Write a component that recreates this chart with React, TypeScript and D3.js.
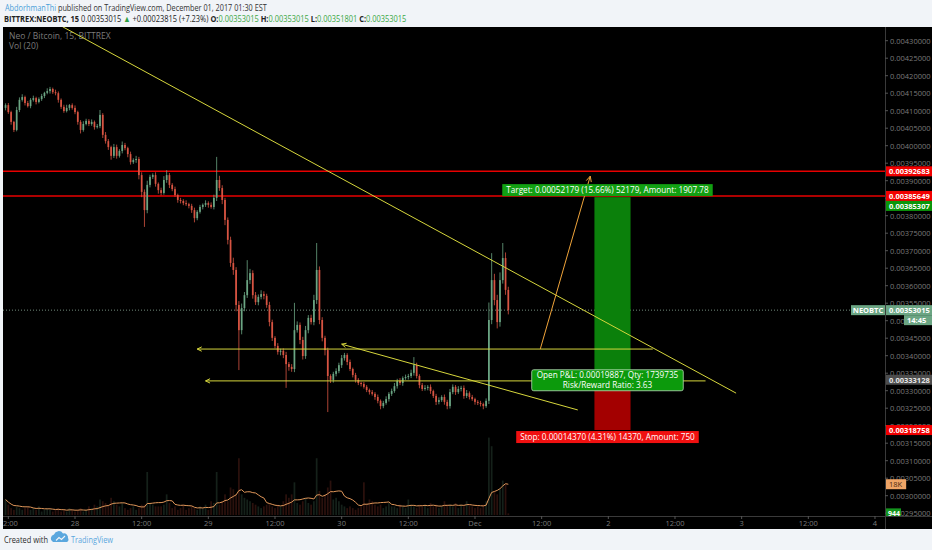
import React, { useMemo } from "react";
import * as d3 from "d3";

const W = 932;
const H = 550;

// NEO/BTC on Bittrex, 30-minute bars (prices in satoshi), first bar opens 27 Nov 2017 11:30 UTC
const barStart = Date.UTC(2017, 10, 27, 11, 30);
const barMinutes = 30;
const firstOpen = 410800;

const closes = [
  411600, 409600, 406800, 404500, 410200, 413100, 413900, 412200, 411300, 413100,
  413600, 412500, 413300, 414200, 415100, 415600, 416200, 415300, 415000, 413100,
  411100, 409900, 410800, 411600, 410800, 409600, 406800, 404500, 406200, 407100,
  406200, 406800, 405300, 405600, 408800, 403100, 401300, 399600, 397100, 399600,
  397100, 398500, 400200, 399300, 397600, 395300, 395900, 396200, 391600, 386800,
  381600, 388800, 391100, 391600, 389100, 387300, 386500, 390200, 391600, 388800,
  387600, 385900, 384500, 384200, 383600, 383300, 382800, 381600, 379300, 381100,
  382500, 383100, 383600, 383100, 382500, 385100, 390200, 387900, 384500, 378800,
  373100, 366500, 364500, 354500, 347300, 353600, 357300, 361600, 363600, 357300,
  355300, 356800, 357600, 357100, 354500, 349600, 345100, 342800, 341100, 341400,
  340200, 337600, 336800, 336200, 347300, 348800, 344500, 339900, 347300, 350800,
  349600, 355900, 364500, 350200, 345100, 341600, 334200, 333100, 334800, 335600,
  337300, 339300, 340200, 338200, 336200, 334500, 333100, 332200, 331900, 331100,
  330200, 329600, 329100, 328200, 327100, 325600, 326500, 327600, 329100, 329900,
  331300, 332800, 332200, 333600, 333900, 334200, 335100, 337300, 334200, 331600,
  330500, 330800, 331100, 329900, 328500, 326800, 327300, 328200, 326800, 325600,
  329600, 331100, 329600, 330500, 330800, 328500, 329300, 328200, 327600, 326800,
  326500, 326200, 325600, 327100, 350200, 361600, 355900, 349600, 361600, 367900,
  358800, 353015,
];

// distance of each high above the body, in satoshi
const wickHigh = [
  500, 600, 400, 300, 900, 700, 800, 400, 600, 500,
  700, 400, 500, 600, 300, 800, 600, 400, 700, 500,
  400, 600, 900, 300, 500, 700, 400, 500, 800, 600,
  500, 700, 400, 600, 1400, 500, 800, 600, 400, 900,
  700, 500, 1000, 600, 400, 700, 500, 900, 600, 800,
  700, 1200, 600, 500, 800, 400, 700, 1100, 1400, 600,
  500, 700, 400, 600, 500, 800, 400, 600, 700, 500,
  600, 400, 800, 500, 700, 900, 6600, 1200, 800, 600,
  700, 900, 1500, 800, 1100, 1300, 900, 5700, 1200, 800,
  900, 700, 1100, 800, 600, 900, 700, 500, 800, 600,
  700, 900, 600, 800, 7800, 1000, 700, 900, 1200, 800,
  900, 1500, 7700, 1000, 800, 600, 700, 500, 600, 800,
  700, 900, 600, 500, 700, 400, 600, 500, 400, 600,
  500, 400, 600, 500, 700, 400, 600, 800, 500, 700,
  900, 600, 800, 500, 700, 600, 900, 2300, 700, 500,
  600, 800, 500, 700, 400, 600, 800, 500, 700, 600,
  900, 700, 500, 800, 600, 700, 900, 500, 600, 400,
  500, 600, 400, 700, 5000, 7700, 1800, 1500, 2200, 4300,
  1600, 900,
];

// distance of each low below the body, in satoshi
const wickLow = [
  700, 500, 800, 600, 400, 600, 500, 700, 400, 600,
  500, 700, 400, 500, 600, 400, 700, 500, 600, 800,
  600, 500, 400, 700, 500, 600, 800, 1000, 500, 400,
  600, 500, 700, 400, 600, 900, 700, 800, 1100, 600,
  800, 500, 700, 600, 900, 700, 500, 800, 1200, 1500,
  4800, 900, 700, 600, 800, 1000, 700, 500, 800, 900,
  600, 500, 800, 700, 600, 500, 700, 800, 1200, 600,
  500, 700, 600, 800, 500, 700, 900, 800, 1200, 1500,
  1300, 1100, 1400, 1800, 11400, 1200, 900, 800, 1100, 1000,
  800, 900, 700, 1000, 800, 1200, 900, 700, 800, 1000,
  900, 6800, 1100, 800, 900, 700, 1200, 1000, 800, 900,
  700, 900, 1100, 1200, 1000, 1500, 10300, 900, 800, 700,
  600, 800, 700, 900, 600, 700, 800, 600, 700, 500,
  600, 700, 500, 800, 700, 900, 600, 500, 700, 600,
  500, 700, 600, 800, 500, 700, 600, 800, 700, 900,
  600, 500, 700, 800, 600, 900, 700, 500, 800, 900,
  700, 600, 800, 500, 700, 800, 600, 700, 500, 800,
  600, 700, 900, 500, 900, 1200, 1500, 1800, 1300, 1000,
  1400, 1214,
];

// traded volume per bar, thousands of NEO
const volumeK = [
  9, 6, 4, 3, 5, 4, 3, 4, 5, 3,
  4, 3, 5, 2, 3, 4, 3, 2, 3, 4,
  2, 3, 2, 4, 3, 2, 3, 4, 2, 3,
  5, 4, 6, 5, 9, 8, 7, 6, 10, 8,
  6, 5, 7, 4, 3, 4, 5, 3, 4, 6,
  6, 25, 7, 6, 5, 5, 5, 6, 12, 7,
  4, 5, 3, 4, 6, 3, 4, 5, 4, 3,
  5, 4, 6, 3, 8, 7, 25, 6, 8, 12,
  8, 16, 15, 12, 33, 12, 10, 9, 8, 7,
  6, 5, 4, 5, 6, 7, 5, 4, 6, 5,
  8, 12, 10, 12, 19, 7, 6, 8, 10, 7,
  6, 8, 33, 14, 10, 12, 16, 20, 9, 10,
  8, 6, 5, 4, 5, 4, 3, 4, 5, 19,
  7, 9, 8, 6, 5, 6, 4, 5, 7, 5,
  5, 4, 6, 5, 4, 9, 6, 5, 4, 6,
  5, 6, 4, 7, 5, 6, 4, 5, 8, 6,
  6, 5, 7, 4, 6, 5, 8, 6, 5, 4,
  5, 4, 6, 8, 45, 40, 14, 12, 15, 20,
  18, 0.944,
];
const volumeMaLength = 10; // 20 bars of 15 minutes

// last 15-minute quote shown in the header: open, high, low, close
const lastQuote = [353015, 353015, 351801, 353015];
const sessionOpen = 329200;

// horizontal resistance levels
const resistanceLevels = [392683, 385649];

// long position: entry, target, stop, account size and amount risked
const entryPrice = 333128;
const targetPrice = 385307;
const stopPrice = 318758;
const accountSize = 1000;
const riskAmount = 250;
const positionFrom = "2017-12-01T21:30:00Z";
const positionTo = "2017-12-02T04:00:00Z";

// drawn lines: time/price anchors, arrow marks the end carrying an arrowhead
const drawingStart = ["2017-11-27T21:45:00Z", "2017-11-28T22:00:00Z", "2017-11-28T23:30:00Z", "2017-11-30T00:00:00Z", "2017-12-01T11:45:00Z"];
const drawingStartPrice = [434000, 341900, 332800, 343300, 341900];
const drawingEnd = ["2017-12-02T23:00:00Z", "2017-12-02T08:00:00Z", "2017-12-02T17:30:00Z", "2017-12-01T18:30:00Z", "2017-12-01T20:45:00Z"];
const drawingEndPrice = [329300, 341900, 332800, 324500, 391300];
const drawingArrow = ["none", "start", "start", "start", "end"];
const drawingColor = ["#d6d63c", "#d6d63c", "#d6d63c", "#d6d63c", "#f0a43a"];

const priceTickMin = 295000;
const priceTickMax = 430000;
const priceTickStep = 5000;

// layout
const paneL = 3;
const paneT = 27;
const paneR = 885;
const paneB = 516;
const frameB = 529;
const dayPx = 133.33;
const day28X = 75;
const headerW1 = 262;
const headerW2 = 403;

const UP = "#6ba583";
const DOWN = "#d75442";
const UI_FONT = "'Open Sans', 'Noto Sans', sans-serif";

const fmtPrice = (sat: number) => (sat / 1e8).toFixed(8);

let measureCtx: CanvasRenderingContext2D | null = null;
function textWidth(text: string, font: string) {
  if (!measureCtx) measureCtx = document.createElement("canvas").getContext("2d");
  if (!measureCtx) return text.length * 5;
  measureCtx.font = font;
  return measureCtx.measureText(text).width;
}

function arrowHead(x1: number, y1: number, x2: number, y2: number, len = 6) {
  // arrowhead at (x2, y2) pointing away from (x1, y1)
  const a = Math.atan2(y2 - y1, x2 - x1);
  const s = 0.45;
  const p1 = [x2 - len * Math.cos(a - s), y2 - len * Math.sin(a - s)];
  const p2 = [x2 - len * Math.cos(a + s), y2 - len * Math.sin(a + s)];
  return `M${p1[0]},${p1[1]}L${x2},${y2}L${p2[0]},${p2[1]}`;
}

export default function App() {
  const x = useMemo(
    () =>
      d3
        .scaleUtc()
        .domain([new Date(Date.UTC(2017, 10, 27)), new Date(Date.UTC(2017, 11, 5))])
        .range([day28X - dayPx, day28X + 7 * dayPx]),
    []
  );
  const y = useMemo(
    () => d3.scaleLinear().domain([430000, 295000]).range([40.7, 40.7 + 135000 * 0.0035]),
    []
  );
  const yVol = useMemo(() => d3.scaleLinear().domain([0, 60000]).range([515, 515 - 60 * 1.72]), []);

  const bars = useMemo(
    () =>
      closes.map((c, i) => {
        const o = i === 0 ? firstOpen : closes[i - 1];
        const t = new Date(barStart + i * barMinutes * 60000);
        const hi = Math.max(o, c) + wickHigh[i];
        const lo = Math.min(o, c) - wickLow[i];
        return { t, o, c, hi, lo, v: volumeK[i] * 1000, up: c >= o };
      }),
    []
  );

  const volMa = useMemo(
    () =>
      bars.map((b, i) => {
        const w = bars.slice(Math.max(0, i - volumeMaLength + 1), i + 1);
        return { t: b.t, v: d3.mean(w, (d) => d.v) as number };
      }),
    [bars]
  );

  const maLine = d3
    .line<{ t: Date; v: number }>()
    .x((d) => x(d.t))
    .y((d) => yVol(d.v))(volMa);

  const barW = x(new Date(barStart + barMinutes * 60000)) - x(new Date(barStart));
  const bodyW = Math.max(1, barW * 0.62);

  const priceTicks = d3.range(priceTickMin, priceTickMax + 1, priceTickStep);
  const timeTicks = d3.utcHour.every(12)!.range(new Date(Date.UTC(2017, 10, 27, 12)), new Date(Date.UTC(2017, 11, 4, 1)));
  const timeLabel = (d: Date) => {
    if (d.getUTCHours() === 12) return "12:00";
    if (d.getUTCDate() === 1) return d3.utcFormat("%b")(d);
    return String(d.getUTCDate());
  };

  const last = bars[bars.length - 1];
  const lastMa = volMa[volMa.length - 1].v;

  // header strings
  const change = last.c - sessionOpen;
  const head1a = "AbdorhmanThi";
  const head1b = " published on TradingView.com, December 01, 2017 01:30 EST";
  const head2 = [
    { s: "BITTREX:NEOBTC, 15", w: 700, c: "#222" },
    { s: ` ${fmtPrice(last.c)} `, w: 400, c: "#222" },
    { s: "▲", w: 400, c: "#2ea043" },
    { s: ` +${fmtPrice(change)} (+${((change / sessionOpen) * 100).toFixed(2)}%) `, w: 400, c: "#222" },
    { s: "O:", w: 700, c: "#222" },
    { s: `${fmtPrice(lastQuote[0])} `, w: 400, c: "#3aa845" },
    { s: "H:", w: 700, c: "#222" },
    { s: `${fmtPrice(lastQuote[1])} `, w: 400, c: "#3aa845" },
    { s: "L:", w: 700, c: "#222" },
    { s: `${fmtPrice(lastQuote[2])} `, w: 400, c: "#3aa845" },
    { s: "C:", w: 700, c: "#222" },
    { s: fmtPrice(lastQuote[3]), w: 400, c: "#3aa845" },
  ];
  const h1Natural = textWidth(head1a + head1b, `9px ${UI_FONT}`);
  const h2Natural = d3.sum(head2, (p) => textWidth(p.s, `${p.w} 9px ${UI_FONT}`));
  const h1Scale = headerW1 / h1Natural;
  const h2Scale = headerW2 / h2Natural;

  // position figures
  const rewardSat = targetPrice - entryPrice;
  const riskSat = entryPrice - stopPrice;
  const qty = Math.floor(riskAmount / (riskSat / 1e8));
  const targetAmount = accountSize + (qty * rewardSat) / 1e8;
  const stopAmount = accountSize - (qty * riskSat) / 1e8;
  const openPnl = last.c - entryPrice;
  const targetText = `Target: ${fmtPrice(rewardSat)} (${((rewardSat / entryPrice) * 100).toFixed(2)}%) ${rewardSat}, Amount: ${targetAmount.toFixed(2)}`;
  const stopText = `Stop: ${fmtPrice(riskSat)} (${((riskSat / entryPrice) * 100).toFixed(2)}%) ${riskSat}, Amount: ${stopAmount.toFixed(0)}`;
  const pnlText1 = `Open P&L: ${fmtPrice(openPnl)}, Qty: ${qty}`;
  const pnlText2 = `Risk/Reward Ratio: ${(rewardSat / riskSat).toFixed(2)}`;
  const posX1 = x(new Date(positionFrom));
  const posX2 = x(new Date(positionTo));
  const labelMid = (posX1 + posX2) / 2 - 5;
  const boxFontSize = 8.2;
  const boxFont = `${boxFontSize}px ${UI_FONT}`;
  const tW = textWidth(targetText, boxFont) + 8;
  const sW = textWidth(stopText, boxFont) + 8;
  const pW = Math.max(textWidth(pnlText1, boxFont), textWidth(pnlText2, boxFont)) + 10;

  // price-axis labels, stacked so they never overlap
  const axisLabels = [
    { p: resistanceLevels[0], text: fmtPrice(resistanceLevels[0]), bg: "#f20000", fg: "#fff" },
    { p: resistanceLevels[1], text: fmtPrice(resistanceLevels[1]), bg: "#f20000", fg: "#fff" },
    { p: targetPrice, text: fmtPrice(targetPrice), bg: "#0a960a", fg: "#fff" },
    { p: last.c, text: fmtPrice(last.c), bg: UP, fg: "#fff" },
    { p: entryPrice, text: fmtPrice(entryPrice), bg: "#4d4d4d", fg: "#e6e6e6" },
    { p: stopPrice, text: fmtPrice(stopPrice), bg: "#f20000", fg: "#fff" },
  ]
    .map((l) => ({ ...l, yy: y(l.p) }))
    .sort((a, b) => a.yy - b.yy);
  for (let i = 1; i < axisLabels.length; i++) {
    if (axisLabels[i].yy - axisLabels[i - 1].yy < 10) axisLabels[i].yy = axisLabels[i - 1].yy + 10;
  }

  const lastY = y(last.c);
  const maText = `${Math.round(lastMa / 1000)}K`;

  return (
    <svg width={W} height={H} style={{ display: "block", position: "absolute", left: 0, top: 0 }} fontFamily={UI_FONT}>
      <defs>
        <clipPath id="pane">
          <rect x={paneL} y={paneT} width={paneR - paneL} height={paneB - paneT} />
        </clipPath>
        <clipPath id="timeaxis">
          <rect x={paneL} y={paneB} width={paneR - paneL} height={frameB - paneB} />
        </clipPath>
        <clipPath id="priceaxis">
          <rect x={paneR} y={paneT} width={W - paneR} height={paneB - paneT} />
        </clipPath>
      </defs>

      <rect x={0} y={0} width={W} height={H} fill="#f1f4f8" />

      {/* header, narrowed horizontally */}
      <g transform={`translate(5,10.5) scale(${h1Scale},1)`}>
        <text x={0} y={0} fontSize={9} fill="#333">
          <tspan fill="#4a9fd8">{head1a}</tspan>
          <tspan>{head1b}</tspan>
        </text>
      </g>
      <g transform={`translate(4,21.5) scale(${h2Scale},1)`}>
        <text x={0} y={0} fontSize={9} style={{ whiteSpace: "pre" }}>
          {head2.map((p, i) => (
            <tspan key={i} fontWeight={p.w} fill={p.c}>{p.s}</tspan>
          ))}
        </text>
      </g>

      {/* chart frame */}
      <rect x={paneL} y={paneT} width={W - paneL} height={frameB - paneT} fill="#000" />

      <g clipPath="url(#pane)">
        <text x={9} y={39} fontSize={8.5} fill="#7b7b7b">Neo / Bitcoin, 15, BITTREX</text>
        <text x={9} y={49} fontSize={8.5} fill="#7b7b7b">Vol (20)</text>

        {/* volume */}
        {bars.map((b, i) => (
          <rect
            key={"v" + i}
            x={x(b.t) - bodyW / 2}
            y={yVol(b.v)}
            width={bodyW}
            height={yVol(0) - yVol(b.v)}
            fill={b.up ? UP : DOWN}
            opacity={0.2}
          />
        ))}
        <path d={maLine || ""} fill="none" stroke="#e0975a" strokeWidth={1} />

        {/* resistance lines */}
        {resistanceLevels.map((p) => (
          <line key={p} x1={paneL} x2={paneR} y1={y(p)} y2={y(p)} stroke="#e80000" strokeWidth={1.4} />
        ))}

        {/* last price line */}
        <line x1={paneL} x2={paneR} y1={lastY} y2={lastY} stroke="#8fae9c" strokeWidth={0.8} strokeDasharray="1 2" />

        {/* candles */}
        {bars.map((b, i) => {
          const cx = x(b.t);
          const col = b.up ? UP : DOWN;
          const top = y(Math.max(b.o, b.c));
          const bot = y(Math.min(b.o, b.c));
          return (
            <g key={"c" + i}>
              <line x1={cx} x2={cx} y1={y(b.hi)} y2={y(b.lo)} stroke={col} strokeWidth={0.8} />
              <rect x={cx - bodyW / 2} y={top} width={bodyW} height={Math.max(0.8, bot - top)} fill={col} />
            </g>
          );
        })}

        {/* position */}
        <rect x={posX1} y={y(targetPrice)} width={posX2 - posX1} height={y(entryPrice) - y(targetPrice)} fill="#0b800b" />
        <rect x={posX1} y={y(entryPrice)} width={posX2 - posX1} height={y(stopPrice) - y(entryPrice)} fill="#a30000" />

        {/* drawings */}
        {drawingStart.map((s, i) => {
          const x1 = x(new Date(s));
          const y1 = y(drawingStartPrice[i]);
          const x2 = x(new Date(drawingEnd[i]));
          const y2 = y(drawingEndPrice[i]);
          return (
            <g key={"d" + i} stroke={drawingColor[i]} strokeWidth={1} fill="none">
              <line x1={x1} y1={y1} x2={x2} y2={y2} />
              {drawingArrow[i] === "start" && <path d={arrowHead(x2, y2, x1, y1, 5)} />}
              {drawingArrow[i] === "end" && <path d={arrowHead(x1, y1, x2, y2, 6)} />}
            </g>
          );
        })}

        {/* position labels */}
        <rect x={labelMid - tW / 2} y={y(targetPrice) - 13} width={tW} height={12} fill="#12a012" />
        <text x={labelMid} y={y(targetPrice) - 4} textAnchor="middle" fontSize={boxFontSize} fill="#fff">{targetText}</text>

        <rect x={labelMid - pW / 2} y={y(entryPrice) - 10} width={pW} height={21} rx={2} fill="#0c9a0c" stroke="#b5dcb5" strokeWidth={0.8} />
        <text x={labelMid} y={y(entryPrice) - 1.5} textAnchor="middle" fontSize={boxFontSize} fill="#fff">{pnlText1}</text>
        <text x={labelMid} y={y(entryPrice) + 8} textAnchor="middle" fontSize={boxFontSize} fill="#fff">{pnlText2}</text>

        <rect x={labelMid - sW / 2} y={y(stopPrice) + 1} width={sW} height={12} fill="#f01010" />
        <text x={labelMid} y={y(stopPrice) + 10} textAnchor="middle" fontSize={boxFontSize} fill="#fff">{stopText}</text>
      </g>

      {/* axes separators */}
      <line x1={paneR + 0.5} x2={paneR + 0.5} y1={paneT} y2={frameB} stroke="#3a3a3a" />
      <line x1={paneL} x2={W} y1={paneB + 0.5} y2={paneB + 0.5} stroke="#3a3a3a" />

      {/* price axis */}
      <g clipPath="url(#priceaxis)">
        {priceTicks.map((p) => (
          <g key={p}>
            <line x1={paneR} x2={paneR + 3} y1={y(p)} y2={y(p)} stroke="#555" />
            <text x={paneR + 5} y={y(p) + 3} fontSize={7.5} fill="#7a7a7a">{fmtPrice(p)}</text>
          </g>
        ))}
        {axisLabels.map((l) => (
          <g key={l.text}>
            <rect x={paneR + 1} y={l.yy - 5} width={W - paneR - 1} height={10} fill={l.bg} />
            <text x={paneR + 4} y={l.yy + 3} fontSize={7.5} fontWeight={700} fill={l.fg}>{l.text}</text>
          </g>
        ))}
        {/* countdown under the last price */}
        <rect x={904} y={lastY + 5} width={W - 904} height={10} fill={UP} />
        <text x={907} y={lastY + 13} fontSize={7.5} fontWeight={700} fill="#fff">14:45</text>

        {/* volume average and last volume */}
        <rect x={paneR + 1} y={yVol(lastMa) - 5} width={textWidth(maText, `7.5px ${UI_FONT}`) + 7} height={10} fill="#efa466" />
        <text x={paneR + 4} y={yVol(lastMa) + 3} fontSize={7.5} fill="#4a2a10">{maText}</text>
        <rect x={paneR + 1} y={yVol(last.v) - 5} width={15} height={10} fill="#14951e" />
        <text x={paneR + 3} y={yVol(last.v) + 3} fontSize={7} fontWeight={700} fill="#fff">{d3.format("d")(last.v)}</text>
      </g>

      {/* symbol tag left of the axis */}
      <rect x={paneR - 34} y={lastY - 5} width={34} height={10} fill={UP} />
      <text x={paneR - 17} y={lastY + 3} fontSize={7.5} fontWeight={700} textAnchor="middle" fill="#fff">NEOBTC</text>

      {/* time axis */}
      <g clipPath="url(#timeaxis)">
        {timeTicks.map((t) => (
          <g key={+t}>
            <line x1={x(t)} x2={x(t)} y1={paneB} y2={paneB + 3} stroke="#555" />
            <text x={x(t)} y={526} fontSize={7.5} textAnchor="middle" fill="#7a7a7a">{timeLabel(t)}</text>
          </g>
        ))}
      </g>

      {/* footer */}
      <text x={4} y={543} fontSize={8.5} fill="#2b2b2b" textLength={44} lengthAdjust="spacingAndGlyphs">Created with</text>
      <g transform="translate(56,537)" fill="#5aa7de">
        <path d="M-3,5 a4,4 0 0 1 1,-7.5 a5,5 0 0 1 9,-1 a4,4 0 0 1 5,4.5 a3,3 0 0 1 -1,4 z" />
        <path d="M0,3.5 l3,-3 l2.5,2 l3.5,-3.5" stroke="#f1f4f8" strokeWidth={1.1} fill="none" />
      </g>
      <text x={71} y={543} fontSize={8.5} fill="#5aa7de" textLength={42} lengthAdjust="spacingAndGlyphs">TradingView</text>
    </svg>
  );
}
